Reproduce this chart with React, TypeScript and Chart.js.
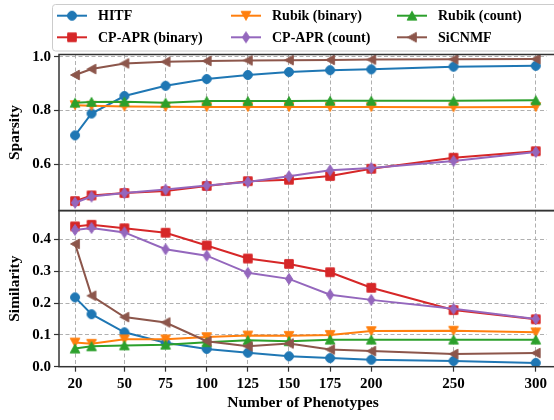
import React, { useEffect, useRef } from 'react';
import { Chart, registerables } from 'chart.js';

Chart.register(...registerables);

// ---- Data ----
const phenotypes = [20, 30, 50, 75, 100, 125, 150, 175, 200, 250, 300];
const xTicks = [20, 50, 75, 100, 125, 150, 175, 200, 250, 300];
const sparsityTicks = [0.6, 0.8, 1.0];
const similarityTicks = [0, 0.1, 0.2, 0.3, 0.4];

const methods = ['HITF', 'CP-APR (binary)', 'Rubik (binary)', 'CP-APR (count)', 'Rubik (count)', 'SiCNMF'];

// Sparsity (top panel)
const sparHITF = [0.708, 0.789, 0.854, 0.892, 0.917, 0.932, 0.943, 0.950, 0.953, 0.963, 0.966];
const sparCPAPRBin = [0.464, 0.485, 0.494, 0.501, 0.520, 0.538, 0.543, 0.557, 0.584, 0.625, 0.649];
const sparRubikBin = [0.820, 0.818, 0.815, 0.814, 0.813, 0.813, 0.813, 0.813, 0.813, 0.812, 0.813];
const sparCPAPRCnt = [0.458, 0.481, 0.494, 0.507, 0.522, 0.535, 0.556, 0.578, 0.587, 0.613, 0.646];
const sparRubikCnt = [0.829, 0.832, 0.833, 0.829, 0.835, 0.835, 0.835, 0.836, 0.836, 0.836, 0.838];
const sparSiCNMF = [0.932, 0.954, 0.975, 0.981, 0.984, 0.986, 0.987, 0.988, 0.989, 0.990, 0.991];

// Similarity (bottom panel)
const simHITF = [0.218, 0.165, 0.108, 0.075, 0.056, 0.044, 0.033, 0.027, 0.022, 0.018, 0.012];
const simCPAPRBin = [0.441, 0.446, 0.435, 0.421, 0.381, 0.340, 0.323, 0.297, 0.248, 0.178, 0.149];
const simRubikBin = [0.076, 0.072, 0.086, 0.086, 0.093, 0.098, 0.097, 0.100, 0.112, 0.113, 0.108];
const simCPAPRCnt = [0.430, 0.436, 0.422, 0.369, 0.349, 0.295, 0.276, 0.226, 0.210, 0.182, 0.150];
const simRubikCnt = [0.057, 0.064, 0.067, 0.069, 0.077, 0.083, 0.080, 0.085, 0.085, 0.085, 0.085];
const simSiCNMF = [0.386, 0.223, 0.156, 0.139, 0.080, 0.064, 0.073, 0.054, 0.049, 0.040, 0.043];

const sparsity = [sparHITF, sparCPAPRBin, sparRubikBin, sparCPAPRCnt, sparRubikCnt, sparSiCNMF];
const similarity = [simHITF, simCPAPRBin, simRubikBin, simCPAPRCnt, simRubikCnt, simSiCNMF];

const colors = ['#1f77b4', '#d62728', '#ff7f0e', '#9467bd', '#2ca02c', '#8c564b'];
const markerKinds = ['circle', 'square', 'triDown', 'thinDiamond', 'triUp', 'triLeft'];

const FAMILY = '"Liberation Serif", "Times New Roman", serif';

function makeMarker(kind: string, color: string): HTMLCanvasElement {
  const c = document.createElement('canvas');
  c.width = 16;
  c.height = 16;
  const g = c.getContext('2d')!;
  const x = 8, y = 8;
  g.fillStyle = color;
  g.strokeStyle = color;
  g.lineWidth = 1;
  g.beginPath();
  if (kind === 'circle') {
    g.arc(x, y, 4.5, 0, Math.PI * 2);
  } else if (kind === 'square') {
    g.rect(x - 4.3, y - 4.3, 8.6, 8.6);
  } else if (kind === 'triDown') {
    g.moveTo(x, y + 4.5); g.lineTo(x - 4.8, y - 4.3); g.lineTo(x + 4.8, y - 4.3); g.closePath();
  } else if (kind === 'triUp') {
    g.moveTo(x, y - 4.5); g.lineTo(x - 4.8, y + 4.3); g.lineTo(x + 4.8, y + 4.3); g.closePath();
  } else if (kind === 'thinDiamond') {
    g.moveTo(x, y - 5.5); g.lineTo(x + 3.6, y); g.lineTo(x, y + 5.5); g.lineTo(x - 3.6, y); g.closePath();
  } else if (kind === 'triLeft') {
    g.moveTo(x - 4.5, y); g.lineTo(x + 4.3, y - 4.8); g.lineTo(x + 4.3, y + 4.8); g.closePath();
  }
  g.fill();
  g.stroke();
  return c;
}

export default function App() {
  const ref = useRef<HTMLCanvasElement>(null);

  useEffect(() => {
    document.body.style.margin = '0';
    const canvas = ref.current!;
    const markers = markerKinds.map((k, i) => makeMarker(k, colors[i]));

    const datasets: any[] = [];
    methods.forEach((name, i) => {
      const common = {
        label: name,
        borderColor: colors[i],
        backgroundColor: colors[i],
        borderWidth: 2,
        pointStyle: markers[i],
        pointRadius: 5,
        tension: 0,
        order: 20 - i,
      };
      datasets.push({
        ...common,
        yAxisID: 'ySim',
        data: phenotypes.map((x, j) => ({ x, y: similarity[i][j] })),
      });
      datasets.push({
        ...common,
        yAxisID: 'ySpar',
        data: phenotypes.map((x, j) => ({ x, y: sparsity[i][j] })),
      });
    });

    const tickFont = { family: FAMILY, size: 15, weight: 'bold' as const };
    const titleFont = { family: FAMILY, size: 15.5, weight: 'bold' as const };

    const gridCommon = {
      color: '#b0b0b0',
      lineWidth: 1,
      drawTicks: true,
      tickLength: 5,
      tickColor: '#333333',
      tickWidth: 1.2,
      tickBorderDash: [],
    };

    const fitY = (scale: any) => {
      scale.width = 59;
      scale.paddingTop = 0;
      scale.paddingBottom = 0;
    };

    const framePlugin = {
      id: 'frame',
      afterDatasetsDraw(chart: any) {
        const ctx = chart.ctx;
        const area = chart.chartArea;
        ctx.save();
        ctx.strokeStyle = '#333333';
        ctx.lineWidth = 1.5;
        ['ySpar', 'ySim'].forEach((id) => {
          const s = chart.scales[id];
          ctx.strokeRect(area.left, s.top, area.right + 20 - area.left, s.bottom - s.top);
        });
        ctx.restore();
      },
    };

    const legendPlugin = {
      id: 'customLegend',
      afterDraw(chart: any) {
        const ctx = chart.ctx;
        ctx.save();
        // box
        const bx = 52.5, by = 4.5, bw = 520, bh = 46.5, r = 3;
        ctx.beginPath();
        ctx.moveTo(bx + r, by);
        ctx.lineTo(bx + bw - r, by);
        ctx.arcTo(bx + bw, by, bx + bw, by + r, r);
        ctx.lineTo(bx + bw, by + bh - r);
        ctx.arcTo(bx + bw, by + bh, bx + bw - r, by + bh, r);
        ctx.lineTo(bx + r, by + bh);
        ctx.arcTo(bx, by + bh, bx, by + bh - r, r);
        ctx.lineTo(bx, by + r);
        ctx.arcTo(bx, by, bx + r, by, r);
        ctx.closePath();
        ctx.fillStyle = 'rgba(255,255,255,0.8)';
        ctx.fill();
        ctx.strokeStyle = '#cccccc';
        ctx.lineWidth = 1;
        ctx.stroke();

        const colX = [57, 231, 397];
        const rowY = [15.7, 37.3];
        ctx.font = `bold 14px ${FAMILY}`;
        ctx.textBaseline = 'middle';
        ctx.textAlign = 'left';
        methods.forEach((name, i) => {
          const col = Math.floor(i / 2);
          const row = i % 2;
          const x0 = colX[col];
          const y0 = rowY[row];
          ctx.strokeStyle = colors[i];
          ctx.lineWidth = 2;
          ctx.beginPath();
          ctx.moveTo(x0, y0);
          ctx.lineTo(x0 + 30, y0);
          ctx.stroke();
          const m = markers[i];
          ctx.drawImage(m, x0 + 15 - m.width / 2, y0 - m.height / 2);
          ctx.fillStyle = '#000000';
          ctx.fillText(name, x0 + 41, y0 + 1);
        });
        ctx.restore();
      },
    };

    const chart = new Chart(canvas, {
      type: 'line',
      data: { datasets },
      options: {
        responsive: false,
        animation: false,
        events: [],
        layout: { padding: { top: 54.5, left: 0, right: 0, bottom: 0 } },
        plugins: { legend: { display: false }, tooltip: { enabled: false } },
        scales: {
          x: {
            type: 'linear',
            min: 10.24,
            max: 306.8,
            afterBuildTicks: (scale: any) => {
              scale.ticks = xTicks.map((v) => ({ value: v }));
            },
            afterFit: (scale: any) => {
              scale.height = 53.3;
              scale.paddingLeft = 0;
              scale.paddingRight = 0;
            },
            grid: { ...gridCommon },
            border: { display: false, dash: [4, 2.5] },
            ticks: {
              font: tickFont,
              color: '#000000',
              padding: 3,
              maxRotation: 0,
              autoSkip: false,
              callback: (v: any) => String(v),
            },
            title: {
              display: true,
              text: 'Number of Phenotypes',
              font: titleFont,
              color: '#000000',
              padding: { top: 0, bottom: 8 },
            },
          },
          ySim: {
            type: 'linear',
            position: 'left',
            stack: 'panels',
            stackWeight: 1,
            min: 0,
            max: 0.4906,
            afterBuildTicks: (scale: any) => {
              scale.ticks = similarityTicks.map((v) => ({ value: v }));
            },
            afterFit: fitY,
            grid: { ...gridCommon },
            border: { display: false, dash: [4, 2.5] },
            ticks: {
              font: tickFont,
              color: '#000000',
              padding: 3,
              callback: (v: any) => Number(v).toFixed(1),
            },
            title: {
              display: true,
              text: 'Similarity',
              font: titleFont,
              color: '#000000',
              padding: { top: 6, bottom: 0 },
            },
          },
          ySpar: {
            type: 'linear',
            position: 'left',
            stack: 'panels',
            stackWeight: 1,
            min: 0.4287,
            max: 1.008,
            afterBuildTicks: (scale: any) => {
              scale.ticks = sparsityTicks.map((v) => ({ value: v }));
            },
            afterFit: fitY,
            grid: { ...gridCommon },
            border: { display: false, dash: [4, 2.5] },
            ticks: {
              font: tickFont,
              color: '#000000',
              padding: 3,
              callback: (v: any) => Number(v).toFixed(1),
            },
            title: {
              display: true,
              text: 'Sparsity',
              font: titleFont,
              color: '#000000',
              padding: { top: 6, bottom: 0 },
            },
          },
        },
      },
      plugins: [framePlugin, legendPlugin],
    } as any);

    return () => chart.destroy();
  }, []);

  return (
    <div style={{ width: 554, height: 420, position: 'relative', background: '#ffffff' }}>
      <canvas ref={ref} width={554} height={420} style={{ display: 'block' }} />
    </div>
  );
}
